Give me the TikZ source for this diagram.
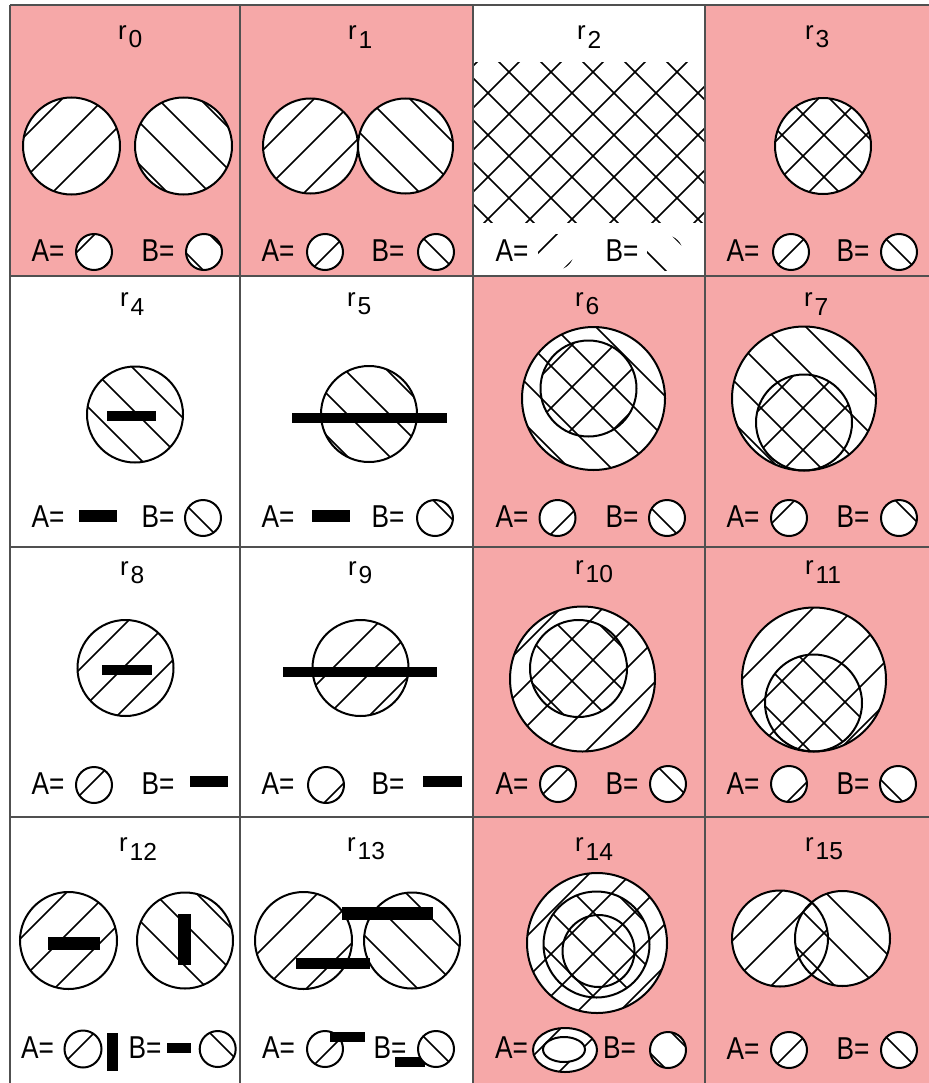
\documentclass[tikz,border=0pt]{standalone}
\usepackage{fontspec}
\setmainfont{Liberation Sans}
\usepackage{tikz}
\definecolor{RCCpink}{RGB}{246,168,168}
\definecolor{RCCgrid}{RGB}{80,80,80}

\newcommand{\nehatch}{\foreach \s in {35,77,...,2051} \draw[hatch] (\s,0) -- ++(-1100,1100);}
\newcommand{\nwhatch}{\foreach \s in {-1075,-1033,...,941} \draw[hatch] (\s,0) -- ++(1100,1100);}
\newcommand{\hatchin}[2]{\begin{scope}\clip #1; #2\end{scope}}
\newcommand{\disc}[4]{\fill[white] (#1,#2) circle (#3); \hatchin{(#1,#2) circle (#3)}{#4} \draw[rim] (#1,#2) circle (#3);}
\newcommand{\rlab}[1]{{\fontsize{22}{24}\selectfont r}\kern1.5pt\raisebox{-7pt}{\fontsize{21}{23}\selectfont #1}}
\newcommand{\keytxt}[1]{\scalebox{0.83}[1]{#1}}

\begin{document}
\begin{tikzpicture}[x=0.3mm, y=-0.3mm,
    hatch/.style={line width=0.5mm},
    rim/.style={line width=0.6mm},
    slab/.style={fill=black},
    gridline/.style={line width=0.6mm, RCCgrid},
    lab/.style={inner sep=0pt, anchor=west},
    keytext/.style={font=\fontsize{27}{30}\selectfont, inner sep=0pt}]
    \useasboundingbox (0,0) rectangle (929,1083);
    \fill[white] (0,0) rectangle (929,1083);
    \foreach \xa/\ya/\xb/\yb in {10/5/240/276, 240/5/473/276, 705/5/929/276, 473/276/705/547, 705/276/929/547, 473/547/705/817, 705/547/929/817, 473/817/705/1083, 705/817/929/1083}
        \fill[RCCpink] (\xa,\ya) rectangle (\xb,\yb);

    \node[lab] (r0) at (118,37) {\rlab{0}};
    \disc{71.5}{146}{48.5}{\nehatch}
    \disc{183.5}{146}{48.5}{\nwhatch}
    \node[keytext] (a0) at (48,251) {\keytxt{A=}};
    \disc{94}{252}{18}{\nehatch}
    \node[keytext] (b0) at (158,251) {\keytxt{B=}};
    \disc{204}{252}{18}{\nwhatch}

    \node[lab] (r1) at (348,37) {\rlab{1}};
    \disc{310.5}{146}{47.5}{\nehatch}
    \disc{405.5}{146}{47.5}{\nwhatch}
    \node[keytext] (a1) at (278,251) {\keytxt{A=}};
    \disc{325}{252}{18}{\nehatch}
    \node[keytext] (b1) at (388,251) {\keytxt{B=}};
    \disc{436}{252}{18}{\nwhatch}

    \node[lab] (r2) at (577,37) {\rlab{2}};
    \hatchin{(473,62) rectangle (705,222)}{\nehatch\nwhatch}
    \node[keytext] (a2) at (512,251) {\keytxt{A=}};
    \hatchin{(556,252) circle (18)}{\nehatch}
    \node[keytext] (b2) at (622,251) {\keytxt{B=}};
    \hatchin{(665,253) circle (18)}{\nwhatch}

    \node[lab] (r3) at (805,37) {\rlab{3}};
    \disc{823}{146}{48}{\nehatch\nwhatch}
    \node[keytext] (a3) at (743,251) {\keytxt{A=}};
    \disc{791}{252}{18}{\nehatch}
    \node[keytext] (b3) at (853,251) {\keytxt{B=}};
    \disc{899}{252}{18}{\nwhatch}

    \node[lab] (r4) at (120,304) {\rlab{4}};
    \disc{135}{414.5}{48}{\nwhatch}
    \fill[slab] (107,411) rectangle (156,421);
    \node[keytext] (a4) at (48,517) {\keytxt{A=}};
    \fill[slab] (79,510) rectangle (117,522);
    \node[keytext] (b4) at (158,517) {\keytxt{B=}};
    \disc{203}{518}{18}{\nwhatch}

    \node[lab] (r5) at (347,304) {\rlab{5}};
    \disc{369}{414}{48}{\nwhatch}
    \fill[slab] (292,413) rectangle (447,423);
    \node[keytext] (a5) at (278,517) {\keytxt{A=}};
    \fill[slab] (312,510) rectangle (350,522);
    \node[keytext] (b5) at (388,517) {\keytxt{B=}};
    \disc{435}{518}{18}{\nwhatch}

    \node[lab] (r6) at (575,304) {\rlab{6}};
    \disc{593.5}{398.5}{71.5}{\nwhatch}
    \hatchin{(588.5,388.5) circle (48)}{\nehatch}
    \draw[rim] (588.5,388.5) circle (48);
    \node[keytext] (a6) at (512,517) {\keytxt{A=}};
    \disc{557.5}{518}{18}{\nehatch}
    \node[keytext] (b6) at (622,517) {\keytxt{B=}};
    \disc{667}{518}{18}{\nwhatch}

    \node[lab] (r7) at (804,304) {\rlab{7}};
    \disc{804}{398.5}{72}{\nwhatch}
    \hatchin{(804,422.5) circle (48)}{\nehatch}
    \draw[rim] (804,422.5) circle (48);
    \node[keytext] (a7) at (743,517) {\keytxt{A=}};
    \disc{789}{518}{18}{\nehatch}
    \node[keytext] (b7) at (853,517) {\keytxt{B=}};
    \disc{899}{518}{18}{\nwhatch}

    \node[lab] (r8) at (120,573) {\rlab{8}};
    \disc{125.5}{668}{48}{\nehatch}
    \fill[slab] (102,665) rectangle (152,675);
    \node[keytext] (a8) at (48,784) {\keytxt{A=}};
    \disc{94}{785}{18}{\nehatch}
    \node[keytext] (b8) at (158,784) {\keytxt{B=}};
    \fill[slab] (190,776) rectangle (228,787);

    \node[lab] (r9) at (348,573) {\rlab{9}};
    \disc{360.5}{668}{48}{\nehatch}
    \fill[slab] (283,667) rectangle (437,677);
    \node[keytext] (a9) at (278,784) {\keytxt{A=}};
    \disc{326}{785}{18}{\nehatch}
    \node[keytext] (b9) at (388,784) {\keytxt{B=}};
    \fill[slab] (423,776) rectangle (462,787);

    \node[lab] (r10) at (575,572) {\rlab{10}};
    \disc{582.5}{679}{72.5}{\nehatch}
    \hatchin{(578.5,668.5) circle (48.5)}{\nwhatch}
    \draw[rim] (578.5,668.5) circle (48.5);
    \node[keytext] (a10) at (512,784) {\keytxt{A=}};
    \disc{558}{784}{18}{\nehatch}
    \node[keytext] (b10) at (622,784) {\keytxt{B=}};
    \disc{668}{784}{18}{\nwhatch}

    \node[lab] (r11) at (805,572) {\rlab{11}};
    \disc{814}{679.5}{72}{\nehatch}
    \hatchin{(813.5,703) circle (48.5)}{\nwhatch}
    \draw[rim] (813.5,703) circle (48.5);
    \node[keytext] (a11) at (743,784) {\keytxt{A=}};
    \disc{789}{784}{18}{\nehatch}
    \node[keytext] (b11) at (853,784) {\keytxt{B=}};
    \disc{898}{784}{18}{\nwhatch}

    \node[lab] (r12) at (119,849) {\rlab{12}};
    \disc{68.5}{940.5}{48.5}{\nehatch}
    \disc{185}{940.5}{48}{\nwhatch}
    \fill[slab] (48,937) rectangle (100,950);
    \fill[slab] (178,914) rectangle (191,965);
    \node[keytext] (a12) at (37.5,1048) {\keytxt{A=}};
    \disc{83}{1049}{18.5}{\nehatch}
    \fill[slab] (107,1033) rectangle (118,1071);
    \node[keytext] (b12) at (145,1048) {\keytxt{B=}};
    \fill[slab] (167,1043) rectangle (191,1053);
    \disc{217.7}{1049}{18}{\nwhatch}

    \node[lab] (r13) at (347,849) {\rlab{13}};
    \disc{303.5}{940.5}{48.5}{\nehatch}
    \disc{412}{940.5}{48}{\nwhatch}
    \fill[slab] (342,907) rectangle (433,920);
    \fill[slab] (296,958) rectangle (370,969);
    \node[keytext] (a13) at (278.5,1048) {\keytxt{A=}};
    \disc{325}{1049}{18}{\nehatch}
    \fill[slab] (330,1032) rectangle (365,1042);
    \node[keytext] (b13) at (390,1048) {\keytxt{B=}};
    \fill[slab] (395,1057) rectangle (425,1067);
    \disc{436}{1049}{18}{\nwhatch}

    \node[lab] (r14) at (575,849) {\rlab{14}};
    \disc{597}{943}{70}{\nehatch}
    \hatchin{(596.5,944.5) circle (53)}{\nwhatch}
    \draw[rim] (596.5,944.5) circle (53) (598.5,951) circle (36);
    \node[keytext] (a14) at (511.5,1048) {\keytxt{A=}};
    \fill[white] (565,1050) ellipse (32 and 22);
    \hatchin{(565,1050) ellipse (32 and 22)}{\nehatch}
    \fill[white] (564,1049.5) ellipse (21 and 12.5);
    \draw[rim] (565,1050) ellipse (32 and 22) (564,1049.5) ellipse (21 and 12.5);
    \node[keytext] (b14) at (619.5,1048) {\keytxt{B=}};
    \disc{668}{1050}{18}{\nwhatch}

    \node[lab] (r15) at (805,849) {\rlab{15}};
    \fill[white] (780,938.5) circle (48) (842.5,938.5) circle (47.5);
    \hatchin{(780,938.5) circle (48)}{\nehatch}
    \hatchin{(842.5,938.5) circle (47.5)}{\nwhatch}
    \draw[rim] (780,938.5) circle (48) (842.5,938.5) circle (47.5);
    \node[keytext] (a15) at (743,1049) {\keytxt{A=}};
    \disc{789}{1050}{18}{\nehatch}
    \node[keytext] (b15) at (853,1049) {\keytxt{B=}};
    \disc{899}{1050}{18}{\nwhatch}

    \draw[gridline] (10,5) -- (929,5) (10,5) -- (10,1083);
    \foreach \gx in {240,473,705}
        \draw[gridline] (\gx,5) -- (\gx,1083);
    \foreach \gy in {276,547,817}
        \draw[gridline] (10,\gy) -- (929,\gy);
\end{tikzpicture}
\end{document}
